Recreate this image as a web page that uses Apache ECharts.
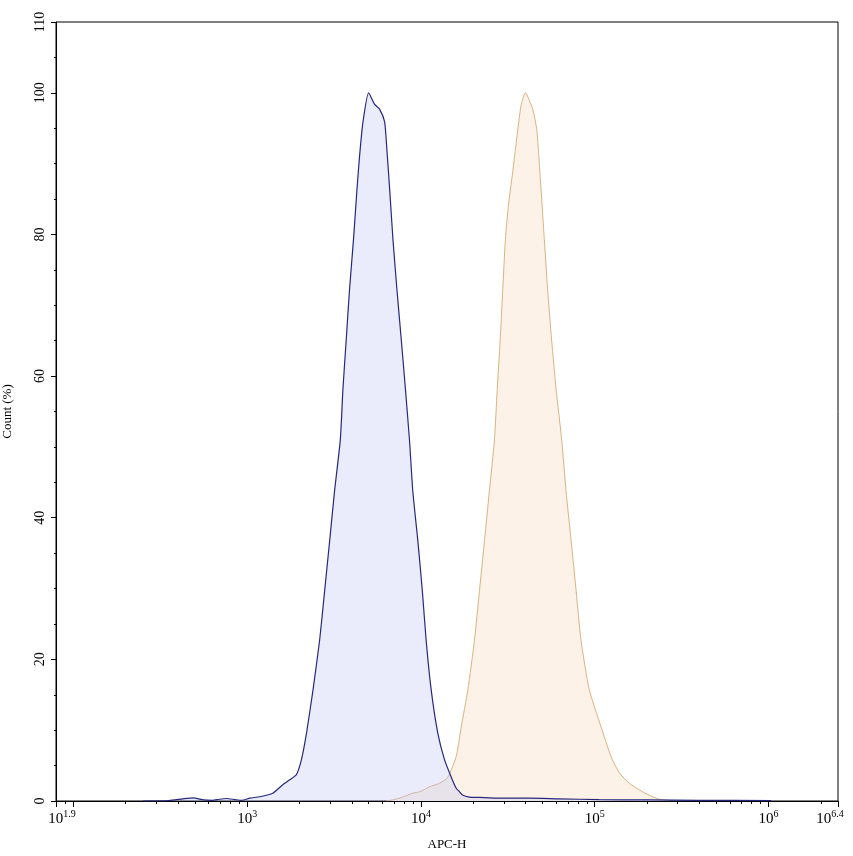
<!DOCTYPE html>
<html>
<head>
<meta charset="utf-8">
<script src="https://cdn.jsdelivr.net/npm/echarts@6/dist/echarts.min.js"></script>
<style>html,body{margin:0;padding:0;background:#fff;}#c{width:853px;height:856px;}</style>
</head>
<body>
<div id="c"></div>
<script>
// x values are log10(APC-H), y values are Count (%)
const blueLogX = [2.40,2.55,2.63,2.69,2.75,2.80,2.84,2.88,2.93,2.97,3.015,3.072,3.147,3.205,3.245,3.283,3.312,3.341,3.379,3.417,3.446,3.475,3.503,3.536,3.551,3.570,3.589,3.612,3.632,3.647,3.666,3.699,3.733,3.762,3.791,3.804,3.820,3.839,3.862,3.887,3.911,3.934,3.953,3.982,4.008,4.030,4.059,4.097,4.136,4.174,4.203,4.222,4.239,4.279,4.337,4.452,4.624,4.797,5.026,5.314,5.60,6.015];
const blueY    = [0.0,0.05,0.3,0.45,0.15,0.1,0.25,0.35,0.2,0.1,0.4,0.6,1.1,2.3,3.0,3.7,5.8,9.5,15.7,22.7,29.7,36.8,43.8,51.0,58.1,65.1,72.2,79.3,86.4,91.1,95.8,100,98.4,97.7,95.9,92.0,86.4,79.3,72.2,65.1,58.1,51.0,43.8,36.8,29.7,22.7,15.7,9.6,5.8,3.4,1.8,1.3,0.85,0.55,0.5,0.4,0.4,0.3,0.2,0.15,0.1,0.05];
const orangeLogX = [3.80,3.837,3.894,3.952,3.992,4.049,4.107,4.153,4.203,4.232,4.270,4.308,4.337,4.366,4.394,4.423,4.439,4.456,4.471,4.486,4.503,4.528,4.551,4.576,4.601,4.643,4.666,4.678,4.691,4.710,4.729,4.752,4.778,4.810,4.835,4.864,4.893,4.921,4.969,5.036,5.094,5.141,5.199,5.275,5.333,5.371,5.429];
const orangeY    = [0.0,0.15,0.55,1.1,1.3,2.0,2.5,3.3,6.3,10.5,15.7,22.7,29.7,36.8,43.8,51.0,58.1,65.1,72.2,79.3,84.0,88.8,93.5,98.2,100,97.7,94.9,91.1,86.4,79.3,72.2,65.1,58.1,51.0,43.8,36.8,29.7,22.7,15.7,10.5,6.3,4.0,2.5,1.3,0.6,0.25,0.05];
const xMajorTicks = [1.9,2,3,4,5,6,6.4];
const xLabelTicks = [1.9,3,4,5,6,6.4];
const decades = [1,2,3,4,5,6];

const xMinorTicks = [];
decades.forEach(d => { for (let k = 2; k <= 9; k++) { const v = d + Math.log10(k); if (v > 1.9 && v < 6.4) xMinorTicks.push(v); } });

const pair = (xs, ys) => xs.map((x, i) => [x, ys[i]]);
const font = 'Liberation Serif';

const chart = echarts.init(document.getElementById('c'));
chart.setOption({
  backgroundColor: '#ffffff',
  animation: false,
  grid: { left: 56, right: 15, top: 22, bottom: 55, outerBoundsMode: 'none', containLabel: false, show: true, borderColor: '#000', borderWidth: 1, backgroundColor: 'transparent' },
  xAxis: [{
    type: 'value', min: 1.9, max: 6.4,
    name: 'APC-H', nameLocation: 'middle', nameGap: 37,
    nameTextStyle: { fontFamily: font, fontSize: 13, color: '#000' },
    axisLine: { lineStyle: { color: '#000', width: 1 } },
    axisTick: { customValues: xMajorTicks, length: 6, lineStyle: { color: '#000' } },
    splitLine: { show: false },
    axisLabel: {
      customValues: xLabelTicks, margin: 8, color: '#000',
      formatter: v => {
        const e = (Math.round(v * 10) / 10).toString();
        if (Math.abs(v - 1.9) < 1e-6) return '{bl|10}{s|' + e + '}';
        if (Math.abs(v - 6.4) < 1e-6) return '{b|10}{sr|' + e + '}';
        return '{b|10}{s|' + e + '}';
      },
      rich: {
        b: { fontFamily: font, fontSize: 15, color: '#000', verticalAlign: 'bottom', lineHeight: 18 },
        bl: { fontFamily: font, fontSize: 15, color: '#000', verticalAlign: 'bottom', lineHeight: 18, padding: [0, 0, 0, 12] },
        s: { fontFamily: font, fontSize: 10, color: '#000', verticalAlign: 'top', lineHeight: 18, padding: [0, 0, 8, 0] },
        sr: { fontFamily: font, fontSize: 10, color: '#000', verticalAlign: 'top', lineHeight: 18, padding: [0, 16, 8, 0] }
      }
    }
  }, {
    type: 'value', min: 1.9, max: 6.4, position: 'bottom', gridIndex: 0,
    axisLine: { show: false },
    axisTick: { customValues: xMinorTicks, length: 3, lineStyle: { color: '#000' } },
    axisLabel: { show: false },
    splitLine: { show: false }
  }],
  yAxis: {
    type: 'value', min: 0, max: 110, interval: 20,
    name: 'Count (%)', nameLocation: 'middle', nameGap: 42, nameRotate: 90,
    nameTextStyle: { fontFamily: font, fontSize: 13, color: '#000' },
    axisLine: { show: true, lineStyle: { color: '#000', width: 1 } },
    axisTick: { show: true, length: 5, lineStyle: { color: '#000' } },
    minorTick: { show: true, splitNumber: 4, length: 2, lineStyle: { color: '#000' } },
    splitLine: { show: false },
    axisLabel: { rotate: 90, margin: 9, fontFamily: font, fontSize: 14, color: '#000' }
  },
  series: [{
    name: 'orange', type: 'line', xAxisIndex: 0, data: pair(orangeLogX, orangeY),
    showSymbol: false, smooth: 0.2,
    lineStyle: { color: '#d9b283', width: 1 },
    areaStyle: { color: '#fdf2e7', opacity: 1 },
    z: 2
  }, {
    name: 'blue', type: 'line', xAxisIndex: 0, data: pair(blueLogX, blueY),
    showSymbol: false, smooth: 0.2,
    lineStyle: { color: '#26287c', width: 1.2 },
    areaStyle: { color: 'rgba(180,186,245,0.4)' },
    z: 3
  }]
});
</script>
</body>
</html>
